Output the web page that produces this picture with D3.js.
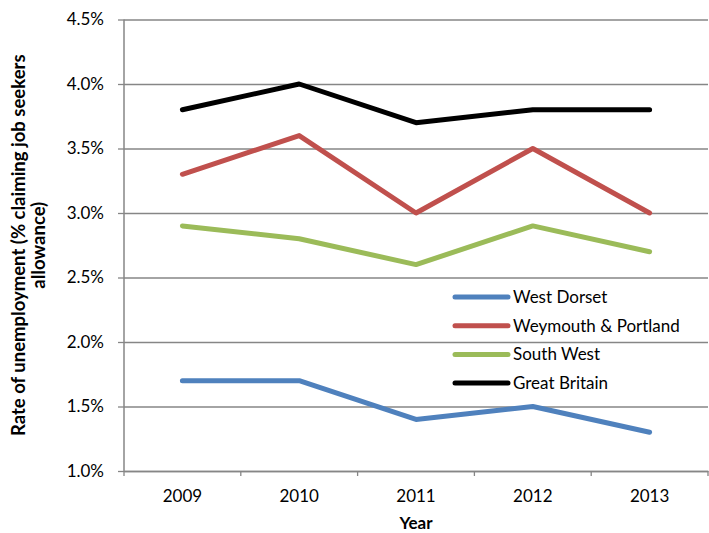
<!DOCTYPE html>
<html>
<head>
<meta charset="utf-8">
<script src="https://cdn.jsdelivr.net/npm/d3@7"></script>
<style>
  html, body { margin: 0; padding: 0; background: #fff; }
  svg text { font-family: Lato, "Open Sans", sans-serif; fill: #000; }
</style>
</head>
<body>
<svg id="chart" width="709" height="533"></svg>
<script>
// Unemployment rate (% claiming job seekers allowance), 2009-2013
const years = ["2009", "2010", "2011", "2012", "2013"];
const westDorset = [1.7, 1.7, 1.4, 1.5, 1.3];
const weymouthPortland = [3.3, 3.6, 3.0, 3.5, 3.0];
const southWest = [2.9, 2.8, 2.6, 2.9, 2.7];
const greatBritain = [3.8, 4.0, 3.7, 3.8, 3.8];
const yTicks = [1.0, 1.5, 2.0, 2.5, 3.0, 3.5, 4.0, 4.5];

const series = [
  { name: "West Dorset", values: westDorset, color: "#4F81BD" },
  { name: "Weymouth & Portland", values: weymouthPortland, color: "#C0504D" },
  { name: "South West", values: southWest, color: "#9BBB59" },
  { name: "Great Britain", values: greatBritain, color: "#000000" }
];

const svg = d3.select("#chart");
const plotLeft = 124, plotRight = 708, plotTop = 19.5, plotBottom = 471;

const x = d3.scaleBand().domain(years).range([plotLeft, plotRight]);
const y = d3.scaleLinear().domain([1.0, 4.5]).range([plotBottom, plotTop]);

const gridColor = "#868686";

// horizontal gridlines with left tick marks
const yAxis = d3.axisLeft(y)
  .tickValues(yTicks)
  .tickFormat(d => d.toFixed(1) + "%")
  .tickSize(6)
  .tickPadding(14);
const gy = svg.append("g").attr("transform", `translate(${plotLeft},0)`).call(yAxis);
gy.select(".domain").remove();
gy.selectAll(".tick line").attr("stroke", gridColor).attr("stroke-width", 1.3);
gy.selectAll(".tick text").style("font-size", "17px").style("font-family", "Lato, sans-serif");
gy.selectAll(".tick").append("line")
  .attr("x1", 0).attr("x2", plotRight - plotLeft)
  .attr("stroke", gridColor).attr("stroke-width", 1.3);

// vertical axis line
svg.append("line")
  .attr("x1", plotLeft).attr("x2", plotLeft).attr("y1", plotTop).attr("y2", plotBottom)
  .attr("stroke", gridColor).attr("stroke-width", 1.5);

// category axis
const xAxis = d3.axisBottom(x).tickSize(0).tickPadding(19);
const gx = svg.append("g").attr("transform", `translate(0,${plotBottom})`).call(xAxis);
gx.select(".domain").attr("stroke", gridColor).attr("stroke-width", 1.5);
gx.selectAll(".tick text").style("font-size", "17px").style("font-family", "Lato, sans-serif");
// tick marks at category boundaries
const bounds = years.map(d => x(d)).concat([x(years[years.length - 1]) + x.bandwidth()]);
gx.selectAll(".bound").data(bounds).enter().append("line")
  .attr("class", "bound")
  .attr("x1", d => d).attr("x2", d => d).attr("y1", 0).attr("y2", 5)
  .attr("stroke", gridColor).attr("stroke-width", 1.3);

// series lines
const line = d3.line()
  .x((d, i) => x(years[i]) + x.bandwidth() / 2)
  .y(d => y(d));
svg.append("g").selectAll("path").data(series).enter().append("path")
  .attr("d", d => line(d.values))
  .attr("fill", "none")
  .attr("stroke", d => d.color)
  .attr("stroke-width", 5)
  .attr("stroke-linecap", "round")
  .attr("stroke-linejoin", "round");

// legend
const legend = svg.append("g").attr("transform", "translate(453,297)");
const entries = legend.selectAll("g").data(series).enter().append("g")
  .attr("transform", (d, i) => `translate(0,${i * 28.7})`);
entries.append("line")
  .attr("x1", 2).attr("x2", 55).attr("y1", 0).attr("y2", 0)
  .attr("stroke", d => d.color).attr("stroke-width", 5).attr("stroke-linecap", "round");
entries.append("text")
  .attr("x", 60).attr("y", 0).attr("dy", "0.35em")
  .style("font-size", "17px")
  .text(d => d.name);

// axis titles
svg.append("text")
  .attr("transform", `translate(25,${(plotTop + plotBottom) / 2}) rotate(-90)`)
  .attr("text-anchor", "middle")
  .style("font-size", "18.5px").style("font-weight", "bold")
  .text("Rate of unemployment (% claiming job seekers");
svg.append("text")
  .attr("transform", `translate(45,${(plotTop + plotBottom) / 2}) rotate(-90)`)
  .attr("text-anchor", "middle")
  .style("font-size", "18.5px").style("font-weight", "bold")
  .text("allowance)");
svg.append("text")
  .attr("x", (plotLeft + plotRight) / 2).attr("y", 529)
  .attr("text-anchor", "middle")
  .style("font-size", "17px").style("font-weight", "bold")
  .text("Year");
</script>
</body>
</html>
